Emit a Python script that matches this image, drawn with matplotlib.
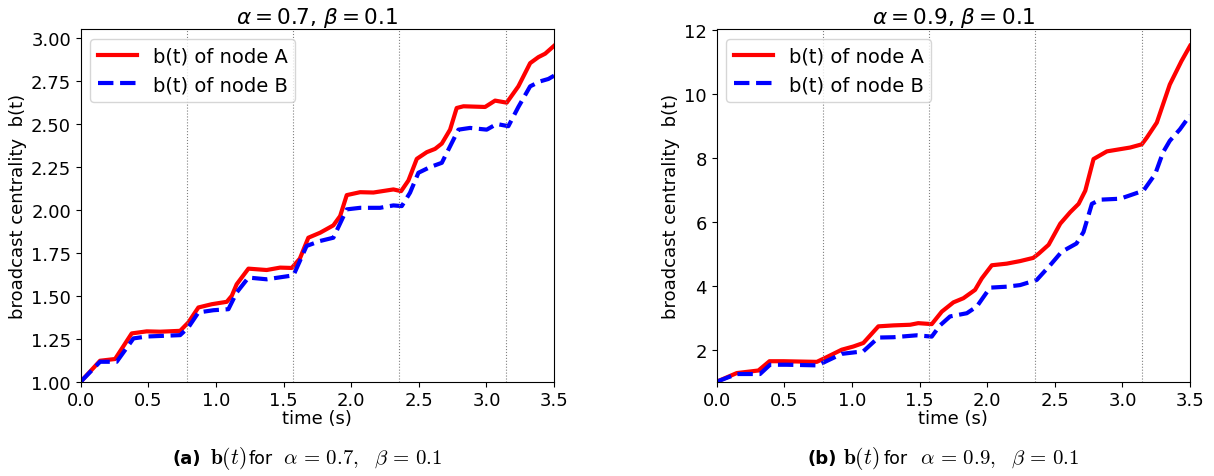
import numpy as np
import matplotlib
matplotlib.use("Agg")
import matplotlib.pyplot as plt

# (a) alpha = 0.7, beta = 0.1
t_a_A = [0.0, 0.143, 0.254, 0.377, 0.488, 0.587, 0.735, 0.796, 0.87, 0.969, 1.08, 1.117,
         1.153, 1.24, 1.375, 1.474, 1.56, 1.62, 1.683, 1.77, 1.868, 1.918, 1.967, 2.066,
         2.164, 2.312, 2.369, 2.423, 2.485, 2.559, 2.62, 2.67, 2.731, 2.78, 2.83, 2.99,
         3.064, 3.15, 3.236, 3.323, 3.384, 3.434, 3.5]
b_a_A = [1.0, 1.122, 1.132, 1.281, 1.293, 1.291, 1.296, 1.345, 1.432, 1.451, 1.465, 1.50,
         1.567, 1.658, 1.650, 1.664, 1.662, 1.716, 1.838, 1.867, 1.91, 1.964, 2.086, 2.103,
         2.101, 2.119, 2.109, 2.171, 2.297, 2.336, 2.355, 2.386, 2.467, 2.593, 2.603, 2.599,
         2.636, 2.624, 2.719, 2.854, 2.889, 2.909, 2.955]
t_a_B = [0.0, 0.143, 0.266, 0.39, 0.488, 0.735, 0.796, 0.87, 0.981, 1.092, 1.153, 1.24,
         1.375, 1.573, 1.67, 1.77, 1.868, 1.967, 2.066, 2.213, 2.312, 2.374, 2.435, 2.497,
         2.583, 2.67, 2.719, 2.793, 2.879, 3.002, 3.076, 3.162, 3.236, 3.323, 3.397, 3.458, 3.5]
b_a_B = [1.0, 1.116, 1.116, 1.252, 1.263, 1.271, 1.316, 1.403, 1.416, 1.422, 1.519, 1.606,
         1.596, 1.619, 1.79, 1.819, 1.838, 2.003, 2.012, 2.012, 2.026, 2.022, 2.10, 2.216,
         2.249, 2.274, 2.351, 2.467, 2.477, 2.467, 2.50, 2.487, 2.599, 2.719, 2.748, 2.762, 2.781]

# (b) alpha = 0.9, beta = 0.1
t_b_A = [0.0, 0.148, 0.308, 0.39, 0.493, 0.74, 0.80, 0.924, 1.01, 1.084, 1.195, 1.306,
         1.43, 1.49, 1.59, 1.664, 1.75, 1.824, 1.91, 1.96, 2.034, 2.144, 2.243, 2.34, 2.38,
         2.454, 2.54, 2.614, 2.676, 2.725, 2.786, 2.885, 3.057, 3.143, 3.18, 3.254, 3.30,
         3.35, 3.436, 3.5]
b_b_A = [1.0, 1.27, 1.35, 1.64, 1.64, 1.62, 1.74, 2.0, 2.10, 2.21, 2.73, 2.76, 2.78, 2.83,
         2.80, 3.19, 3.48, 3.61, 3.87, 4.23, 4.64, 4.69, 4.77, 4.87, 5.0, 5.28, 5.94, 6.30,
         6.56, 6.97, 7.96, 8.20, 8.32, 8.42, 8.63, 9.10, 9.67, 10.29, 11.02, 11.5]
t_b_B = [0.0, 0.148, 0.32, 0.394, 0.518, 0.75, 0.80, 0.924, 1.084, 1.195, 1.306, 1.479,
         1.59, 1.651, 1.725, 1.849, 1.923, 2.021, 2.144, 2.243, 2.366, 2.465, 2.55, 2.66,
         2.712, 2.774, 2.835, 2.983, 3.155, 3.242, 3.30, 3.35, 3.425, 3.5]
b_b_B = [1.0, 1.24, 1.24, 1.53, 1.53, 1.51, 1.62, 1.87, 1.95, 2.38, 2.39, 2.45, 2.41, 2.76,
         3.04, 3.14, 3.35, 3.94, 3.97, 4.02, 4.18, 4.64, 5.06, 5.32, 5.68, 6.56, 6.69, 6.72,
         6.97, 7.49, 8.17, 8.53, 8.89, 9.33]

vlines = np.pi / 4 * np.arange(1, 5)

plt.rcParams['font.size'] = 13

fig = plt.figure(figsize=(12.14, 4.77), dpi=100)
ax1 = fig.add_axes([0.0665, 0.1977, 0.3899, 0.7394])
ax2 = fig.add_axes([0.5904, 0.1977, 0.3899, 0.7394])

panels = [
    (ax1, t_a_A, b_a_A, t_a_B, b_a_B, r'$\alpha = 0.7$, $\beta = 0.1$'),
    (ax2, t_b_A, b_b_A, t_b_B, b_b_B, r'$\alpha = 0.9$, $\beta = 0.1$'),
]

for ax, tA, bA, tB, bB, title in panels:
    ax.plot(tA, bA, color='red', lw=3, label='b(t) of node A')
    ax.plot(tB, bB, color='blue', lw=3, ls='--', label='b(t) of node B')
    for v in vlines:
        ax.axvline(v, color='gray', lw=0.8, ls=':')
    ax.set_xlim(0, 3.5)
    ax.set_ylim(bottom=1)
    ax.set_xlabel('time (s)', labelpad=0)
    ax.set_ylabel('broadcast centrality  b(t)', labelpad=3)
    ax.set_title(title, pad=4)
    ax.legend(loc='upper left', fontsize=14)

ax1.set_yticks(np.arange(1.0, 3.01, 0.25))
ax2.set_yticks([2, 4, 6, 8, 10, 12])

# captions: bold tag, bold-math b(t), "for", math part
W = 1214.0
caps = [
    (173, 210, 249, 283, '(a)', r'$\alpha\,=\,0.7,\ \ \beta\,=\,0.1$'),
    (808, 843, 884, 920, '(b)', r'$\alpha\,=\,0.9,\ \ \beta\,=\,0.1$'),
]
yb = 0.028
for x0, x1, x2, x3, tag, cond in caps:
    fig.text(x0 / W, yb, tag, fontsize=13, fontweight='bold', va='baseline')
    fig.text(x1 / W, yb, r'$\mathbf{b}(t)$', fontsize=15.5, va='baseline', math_fontfamily='cm')
    fig.text(x2 / W, yb, 'for', fontsize=12.5, va='baseline')
    fig.text(x3 / W, yb, cond, fontsize=15, va='baseline', math_fontfamily='cm')

fig.savefig('out.png', dpi=100)
